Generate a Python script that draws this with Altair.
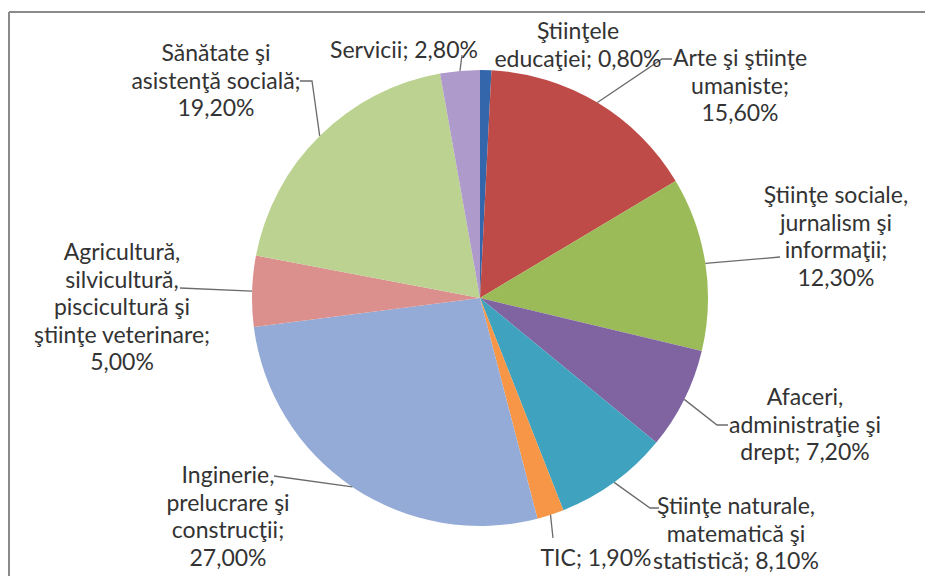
import math
import altair as alt
import pandas as pd

# ---- data ----
categories = [
    "Ştiinţele educaţiei",
    "Arte şi ştiinţe umaniste",
    "Ştiinţe sociale, jurnalism şi informaţii",
    "Afaceri, administraţie şi drept",
    "Ştiinţe naturale, matematică şi statistică",
    "TIC",
    "Inginerie, prelucrare şi construcţii",
    "Agricultură, silvicultură, piscicultură şi ştiinţe veterinare",
    "Sănătate şi asistenţă socială",
    "Servicii",
]
values = [0.8, 15.6, 12.3, 7.2, 8.1, 1.9, 27.0, 5.0, 19.2, 2.8]

# label text wrapping ({v} = formatted value)
label_templates = [
    "Ştiinţele\neducaţiei; {v}",
    "Arte şi ştiinţe\numaniste;\n{v}",
    "Ştiinţe sociale,\njurnalism şi\ninformaţii;\n{v}",
    "Afaceri,\nadministraţie şi\ndrept; {v}",
    "Ştiinţe naturale,\nmatematică şi\nstatistică; {v}",
    "TIC; {v}",
    "Inginerie,\nprelucrare şi\nconstrucţii;\n{v}",
    "Agricultură,\nsilvicultură,\npiscicultură şi\nştiinţe veterinare;\n{v}",
    "Sănătate şi\nasistenţă socială;\n{v}",
    "Servicii; {v}",
]

# ---- style / layout ----
colors = ["#3366AA", "#BE4B48", "#9BBB59", "#8064A2", "#3FA2BE",
          "#F79646", "#93ABD6", "#DB908E", "#BBD291", "#AE9ACB"]
W, H = 917, 568
CX, CY, R = 472, 290, 228
label_pos = [(570, 13), (732, 40), (828, 177), (797, 379), (728, 488),
             (588, 540), (220, 457), (114, 234), (208, 35), (396, 32)]
leader_pts = [
    [],
    [(654, 51), (664, 51)],
    [(772, 249)],
    [(709, 417), (720, 417)],
    [(642, 500), (651, 500)],
    [(545, 530)],
    [(266, 468)],
    [(172, 280)],
    [(304, 73), (292, 73)],
    [(454, 47)],
]


def fmt(v):
    return f"{v:.2f}".replace(".", ",") + "%"


total = sum(values)
pie_df = pd.DataFrame({"idx": range(len(values)), "category": categories, "value": values})

lab_rows, lead_rows = [], []
cum = 0.0
for i, v in enumerate(values):
    mid = (cum + v / 2) / total * 2 * math.pi
    cum += v
    lx, ly = label_pos[i]
    lab_rows.append({"text": label_templates[i].format(v=fmt(v)), "x": lx, "y": ly})
    if leader_pts[i]:
        sx = CX + R * math.sin(mid)
        sy = CY - R * math.cos(mid)
        pts = [(sx, sy)] + leader_pts[i]
        for k, (px, py) in enumerate(pts):
            lead_rows.append({"lab": i, "k": k, "x": px, "y": py})

lab_df = pd.DataFrame(lab_rows)
lead_df = pd.DataFrame(lead_rows)

pie = alt.Chart(pie_df).mark_arc(radius=R).encode(
    theta=alt.Theta("value:Q", stack=True),
    color=alt.Color("category:N", scale=alt.Scale(domain=categories, range=colors), legend=None),
    order=alt.Order("idx:Q", sort="ascending"),
    x=alt.value(CX),
    y=alt.value(CY),
)

leaders = alt.Chart(lead_df).mark_line(color="#6b6b6b", strokeWidth=1.3).encode(
    x=alt.X("x:Q", scale=None, axis=None),
    y=alt.Y("y:Q", scale=None, axis=None),
    detail="lab:N",
    order="k:Q",
)

labels = alt.Chart(lab_df).mark_text(
    font="Lato", fontSize=23, lineHeight=27.5, lineBreak="\n",
    align="center", baseline="top", color="#333333",
).encode(
    x=alt.X("x:Q", scale=None, axis=None),
    y=alt.Y("y:Q", scale=None, axis=None),
    text="text:N",
)

frame_df = pd.DataFrame({"a": [0]})
top_border = alt.Chart(frame_df).mark_rule(color="#8a8a8a", strokeWidth=2).encode(
    x=alt.value(1), x2=alt.value(W), y=alt.value(4)
)
left_border = alt.Chart(frame_df).mark_rule(color="#8a8a8a", strokeWidth=2).encode(
    x=alt.value(1), y=alt.value(4), y2=alt.value(H)
)

chart = alt.layer(pie, leaders, labels, top_border, left_border).properties(
    width=W, height=H, padding=0,
    autosize=alt.AutoSizeParams(type="none"),
    background="white",
).configure_view(strokeWidth=0, stroke="transparent")

chart.save("out.html", embed_options={"renderer": "svg", "actions": False})
